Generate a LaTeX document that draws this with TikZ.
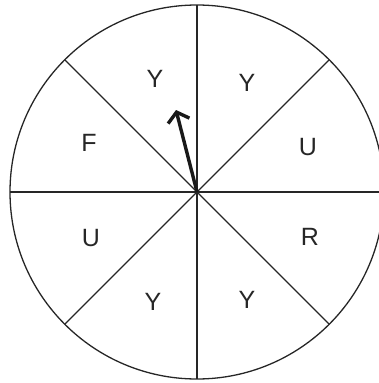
\documentclass[tikz,border=0pt]{standalone}
\usepackage{fontspec}
\setmainfont{Liberation Sans}
\usepackage{tikz}
\usetikzlibrary{arrows.meta}

\begin{document}
\begin{tikzpicture}[
  x=1pt, y=-1pt,
  font=\fontsize{25}{25}\selectfont,
  rim/.style={draw=black!85, line width=1.3pt},
  spoke/.style={draw=black!85, line width=1.1pt},
  letter/.style={inner sep=0pt, text=black!85},
  pointer/.style={draw=black!90, line width=3.4pt,
                  -{Straight Barb[length=9pt, width=22pt, line width=3.4pt]}}
]
  \useasboundingbox (0,0) rectangle (379,383);
  \clip (0,0) rectangle (379,383);
  \coordinate (hub) at (197,192);
  \draw[rim] (hub) circle[radius=187];
  \foreach \a in {0,45,...,315}
    \draw[spoke] (hub) -- ++(\a:187);
  \node[letter] (yA) at (155,79) {Y};
  \node[letter] (yB) at (247,83) {Y};
  \node[letter] (f) at (89,143) {F};
  \node[letter] (uA) at (308,147) {U};
  \node[letter] (uB) at (91,238) {U};
  \node[letter] (r) at (310,237) {R};
  \node[letter] (yC) at (153,302) {Y};
  \node[letter] (yD) at (247,300) {Y};
  \coordinate (tip) at (176,110);
  \draw[pointer] (hub) -- (tip);
\end{tikzpicture}
\end{document}
